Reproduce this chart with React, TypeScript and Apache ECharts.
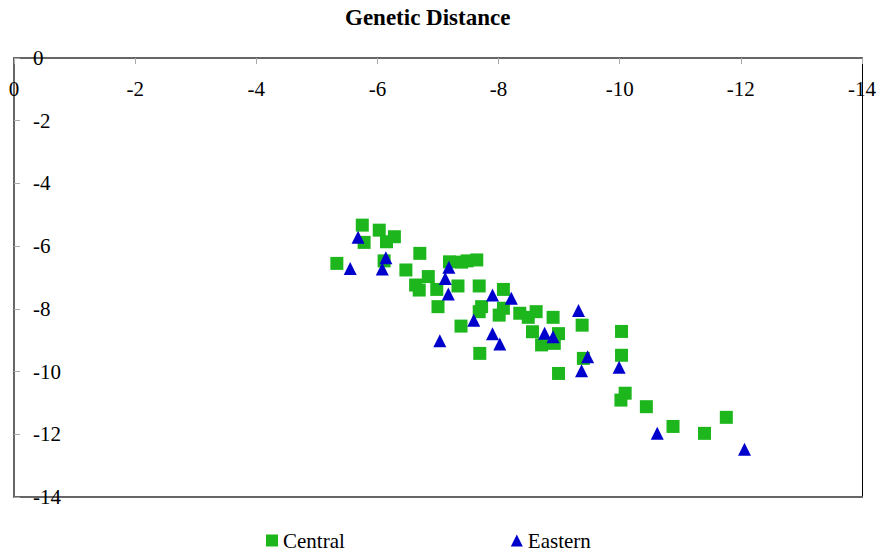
import React, { useEffect, useRef } from "react";
import * as echarts from "echarts";

const titleText = "Genetic Distance";
const seriesNames = ["Central", "Eastern"];
const axisTicks = [0, -2, -4, -6, -8, -10, -12, -14];

const centralX = [-5.75, -6.03, -6.28, -6.15, -5.78, -6.70, -5.33, -6.11, -6.47, -6.84, -6.63, -6.69, -6.98, -7.19, -7.39, -7.48, -7.64, -7.33, -7.68, -8.08, -7.00, -7.72, -7.68, -8.01, -8.08, -8.35, -8.49, -8.62, -8.90, -8.56, -8.71, -8.92, -8.99, -9.38, -10.03, -7.38, -7.69, -9.40, -10.03, -8.99, -10.09, -10.02, -10.44, -10.88, -11.40, -11.76];
const centralY = [-5.33, -5.49, -5.70, -5.86, -5.88, -6.23, -6.55, -6.47, -6.76, -6.97, -7.24, -7.40, -7.38, -6.50, -6.51, -6.47, -6.44, -7.27, -7.27, -7.38, -7.93, -7.93, -8.09, -8.20, -7.98, -8.14, -8.27, -8.09, -8.27, -8.73, -9.15, -9.10, -8.79, -8.52, -8.72, -8.55, -9.42, -9.58, -9.48, -10.06, -10.69, -10.91, -11.12, -11.75, -11.97, -11.46];

const easternX = [-5.68, -5.55, -6.14, -6.08, -7.18, -7.12, -7.17, -7.90, -8.21, -7.59, -7.03, -7.90, -8.02, -8.76, -8.90, -9.32, -9.47, -9.37, -9.99, -10.62, -12.06];
const easternY = [-5.72, -6.71, -6.37, -6.73, -6.67, -7.03, -7.53, -7.56, -7.66, -8.36, -9.02, -8.79, -9.12, -8.78, -8.89, -8.05, -9.53, -9.97, -9.86, -11.97, -12.48];

const FONT = "Liberation Serif";

export default function App() {
  const ref = useRef<HTMLDivElement>(null);
  useEffect(() => {
    if (!ref.current) return;
    const chart = echarts.init(ref.current, undefined, { renderer: "svg" });
    const central = centralX.map((x, i) => [x, centralY[i]]);
    const eastern = easternX.map((x, i) => [x, easternY[i]]);
    const labelStyle = { fontSize: 21, fontFamily: FONT, color: "#000" };
    chart.setOption({
      animation: false,
      backgroundColor: "#fff",
      textStyle: { fontFamily: FONT },
      title: {
        text: titleText,
        left: 345,
        top: 1,
        padding: [5, 5, 5, 0],
        textStyle: { fontFamily: FONT, fontSize: 23, fontWeight: "bold", color: "#000" },
      },
      legend: {
        left: 266,
        top: 530,
        padding: 0,
        itemWidth: 12,
        itemHeight: 12,
        itemGap: 166,
        textStyle: { fontFamily: FONT, fontSize: 21, color: "#000" },
        data: [
          { name: seriesNames[0], icon: "rect" },
          { name: seriesNames[1], icon: "triangle" },
        ],
      },
      grid: { left: 14, top: 58, right: 19, bottom: 57, containLabel: false },
      xAxis: [
        {
          type: "value",
          position: "top",
          inverse: true,
          min: axisTicks[axisTicks.length - 1],
          max: axisTicks[0],
          interval: 2,
          axisLine: { show: true, onZero: false, lineStyle: { color: "#666", width: 2 } },
          axisTick: { show: true, inside: true, length: 6, lineStyle: { color: "#aaa" } },
          axisLabel: { ...labelStyle, inside: true, margin: 20, showMinLabel: true, showMaxLabel: true },
          splitLine: { show: false },
        },
        {
          type: "value",
          position: "bottom",
          inverse: true,
          min: -14,
          max: 0,
          axisLine: { show: true, onZero: false, lineStyle: { color: "#666", width: 2 } },
          axisTick: { show: false },
          axisLabel: { show: false },
          splitLine: { show: false },
        },
      ],
      yAxis: [
        {
          type: "value",
          position: "left",
          min: axisTicks[axisTicks.length - 1],
          max: axisTicks[0],
          interval: 2,
          axisLine: { show: true, onZero: false, lineStyle: { color: "#666", width: 2 } },
          axisTick: { show: true, inside: true, length: 6, lineStyle: { color: "#aaa" } },
          axisLabel: { ...labelStyle, inside: true, margin: 19, showMinLabel: true, showMaxLabel: true },
          splitLine: { show: false },
        },
        {
          type: "value",
          position: "right",
          min: -14,
          max: 0,
          axisLine: { show: true, onZero: false, lineStyle: { color: "#000", width: 1 } },
          axisTick: { show: false },
          axisLabel: { show: false },
          splitLine: { show: false },
        },
      ],
      series: [
        {
          name: seriesNames[0],
          type: "scatter",
          symbol: "rect",
          symbolSize: 13,
          xAxisIndex: 0,
          yAxisIndex: 0,
          itemStyle: { color: "#1DB71D", opacity: 1 },
          data: central,
        },
        {
          name: seriesNames[1],
          type: "scatter",
          symbol: "triangle",
          symbolSize: 13,
          xAxisIndex: 0,
          yAxisIndex: 0,
          itemStyle: { color: "#0000CC", opacity: 1 },
          data: eastern,
        },
      ],
    });
    return () => chart.dispose();
  }, []);
  return (
    <div
      ref={ref}
      style={{ position: "fixed", left: 0, top: 0, width: 881, height: 554, background: "#fff" }}
    />
  );
}
